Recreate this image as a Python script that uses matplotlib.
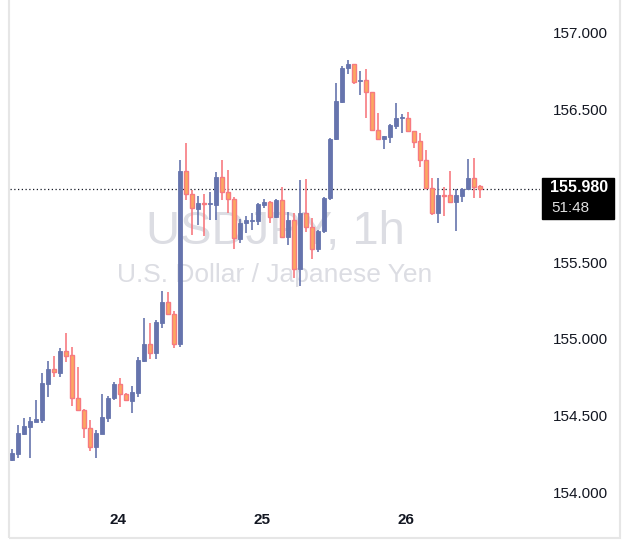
import numpy as np
import matplotlib.pyplot as plt
from matplotlib.patches import Rectangle

# hourly USDJPY candles (open, high, low, close)
opens = [154.209, 154.248, 154.379, 154.425, 154.458, 154.471, 154.706, 154.804, 154.778, 154.922,
         154.895, 154.614, 154.536, 154.418, 154.294, 154.379, 154.484, 154.614, 154.706, 154.641,
         154.595, 154.647, 154.856, 154.967, 154.908, 155.105, 155.242, 155.163, 154.967, 156.098,
         155.948, 155.850, 155.889, 155.882, 155.876, 156.059, 155.961, 155.915, 155.654, 155.758,
         155.771, 155.771, 155.876, 155.895, 155.797, 155.908, 155.667, 155.778, 155.458, 155.824,
         155.732, 155.588, 155.706, 155.922, 156.307, 156.549, 156.771, 156.797, 156.686, 156.693,
         156.614, 156.366, 156.307, 156.320, 156.392, 156.444, 156.444, 156.359, 156.294, 156.170,
         155.987, 155.824, 155.941, 155.941, 155.895, 155.935, 155.980, 156.052, 156.000]
highs = [154.280, 154.438, 154.484, 154.490, 154.601, 154.778, 154.856, 154.889, 154.941, 155.039,
         154.948, 154.817, 154.543, 154.471, 154.405, 154.641, 154.627, 154.719, 154.745, 154.645,
         154.693, 154.882, 155.137, 155.105, 155.124, 155.314, 155.307, 155.183, 156.170, 156.281,
         155.974, 155.935, 155.948, 155.961, 156.092, 156.170, 156.105, 155.925, 155.784, 155.804,
         155.824, 155.889, 155.915, 155.905, 155.915, 155.993, 155.830, 155.824, 156.039, 156.046,
         155.790, 155.712, 155.930, 156.314, 156.673, 156.785, 156.824, 156.800, 156.752, 156.765,
         156.614, 156.477, 156.330, 156.405, 156.542, 156.471, 156.484, 156.359, 156.346, 156.235,
         156.052, 156.052, 155.993, 156.098, 155.980, 155.990, 156.176, 156.183, 156.007]
lows = [154.200, 154.222, 154.370, 154.222, 154.455, 154.451, 154.621, 154.752, 154.752, 154.850,
        154.562, 154.529, 154.353, 154.268, 154.222, 154.379, 154.458, 154.601, 154.556, 154.595,
        154.516, 154.621, 154.850, 154.869, 154.869, 155.072, 155.157, 154.941, 154.948, 155.908,
        155.680, 155.745, 155.673, 155.778, 155.778, 155.908, 155.824, 155.588, 155.627, 155.693,
        155.712, 155.745, 155.856, 155.758, 155.790, 155.660, 155.614, 155.399, 155.346, 155.699,
        155.523, 155.569, 155.693, 155.908, 156.300, 156.540, 156.732, 156.667, 156.595, 156.444,
        156.366, 156.301, 156.242, 156.281, 156.373, 156.346, 156.359, 156.248, 156.124, 155.987,
        155.810, 155.758, 155.804, 155.889, 155.706, 155.895, 155.975, 155.922, 155.922]
closes = [154.255, 154.386, 154.431, 154.464, 154.477, 154.712, 154.804, 154.784, 154.922, 154.889,
          154.614, 154.536, 154.418, 154.294, 154.386, 154.490, 154.614, 154.706, 154.641, 154.601,
          154.654, 154.863, 154.967, 154.908, 155.111, 155.242, 155.163, 154.967, 156.098, 155.948,
          155.856, 155.889, 155.882, 155.889, 156.059, 155.961, 155.915, 155.660, 155.758, 155.778,
          155.778, 155.882, 155.895, 155.797, 155.908, 155.667, 155.778, 155.458, 155.824, 155.732,
          155.588, 155.706, 155.922, 156.307, 156.556, 156.771, 156.797, 156.680, 156.693, 156.614,
          156.366, 156.307, 156.327, 156.399, 156.444, 156.451, 156.359, 156.288, 156.170, 155.987,
          155.824, 155.941, 155.935, 155.895, 155.941, 155.980, 156.052, 155.993, 155.980]

day_ticks = [17.67, 41.67, 65.67]
day_labels = ["24", "25", "26"]
# 156.000 is hidden behind the last-price tag in the reference
price_ticks = [154.0, 154.5, 155.0, 155.5, 156.5, 157.0]
last_price = closes[-1]
countdown = "51:48"

UP = "#6674ad"
DOWN_EDGE = "#f77a80"
DOWN_FACE = "#fba861"

plt.rcParams["font.family"] = ["Liberation Sans", "DejaVu Sans"]

fig = plt.figure(figsize=(6.29, 5.57), dpi=100)
W, H = 629, 557
ax = fig.add_axes([10 / W, (H - 505) / H, 530 / W, 505 / H])

# widget border
fig.add_artist(Rectangle((9 / W, (H - 538) / H), 611 / W, 538 / H + 0.01,
                         transform=fig.transFigure, fill=False, ec="#e6e6e6", lw=1.5))

# watermark
ax.text(0.5, 0.54, "USDJPY, 1h", transform=ax.transAxes, ha="center", va="center",
        fontsize=34, color="#dcdde3", zorder=0)
ax.text(0.5, 0.455, "U.S. Dollar / Japanese Yen", transform=ax.transAxes, ha="center",
        va="center", fontsize=19, color="#dcdde3", zorder=0)

for i, (o, h, l, c) in enumerate(zip(opens, highs, lows, closes)):
    up = c >= o
    ax.vlines(i, l, h, color=UP if up else DOWN_EDGE, lw=1.2, zorder=2)
    bottom, height = min(o, c), max(abs(c - o), 0.004)
    if up:
        ax.add_patch(Rectangle((i - 0.33, bottom), 0.66, height, fc=UP, ec=UP, lw=0.6, zorder=3))
    else:
        ax.add_patch(Rectangle((i - 0.33, bottom), 0.66, height, fc=DOWN_FACE, ec=DOWN_EDGE,
                               lw=1.0, zorder=3))

ax.axhline(last_price, color="#131722", ls=(0, (1, 2)), lw=0.9, zorder=1)

ax.set_xlim(-0.33, 88)
ax.set_ylim(157 - 472 / 153, 157 + 33 / 153)
ax.set_xticks(day_ticks)
ax.set_xticklabels(day_labels, fontsize=11, fontweight="bold", color="#131722")
ax.set_yticks(price_ticks)
ax.set_yticklabels([f"{p:.3f}" for p in price_ticks], fontsize=11, color="#131722")
ax.yaxis.tick_right()
for lbl in ax.get_yticklabels():
    lbl.set_ha("right")
ax.tick_params(axis="y", length=0, pad=49)
ax.tick_params(axis="x", length=0, pad=6)
for s in ax.spines.values():
    s.set_visible(False)

# last price tag
fig.add_artist(Rectangle((542 / W, (H - 219) / H), 72 / W, 41 / H, transform=fig.transFigure,
                         fc="black", ec="black", zorder=5))
fig.text(608 / W, (H - 188) / H, f"{last_price:.3f}", ha="right", va="center",
         fontsize=11.5, fontweight="bold", color="white", zorder=6)
fig.text(551 / W, (H - 208) / H, countdown, ha="left", va="center",
         fontsize=11, color="#e0e0e0", zorder=6)

fig.savefig("out.png", dpi=100)
